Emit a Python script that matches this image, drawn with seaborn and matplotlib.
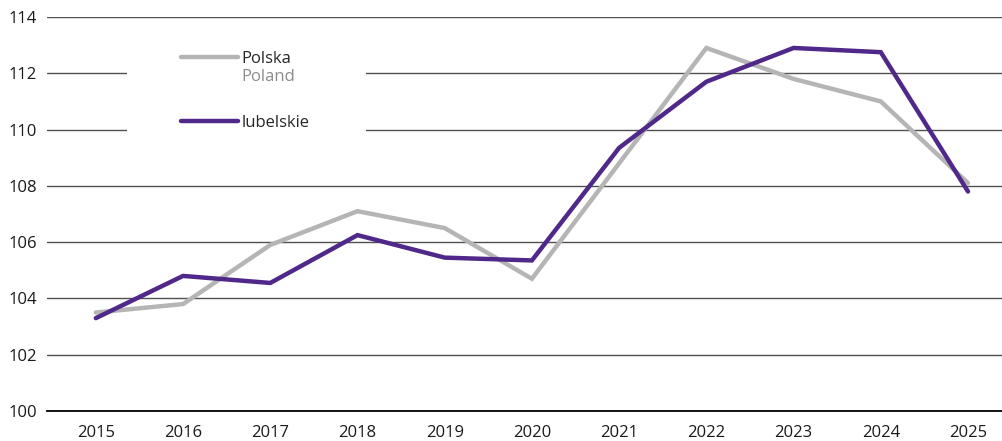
import pandas as pd
import matplotlib.pyplot as plt
import matplotlib.patches as mpatches
from matplotlib.lines import Line2D
import seaborn as sns

years = list(range(2015, 2026))
polska = [103.5, 103.8, 105.9, 107.1, 106.5, 104.7, 108.8, 112.9, 111.8, 111.0, 108.1]
lubelskie = [103.3, 104.8, 104.55, 106.25, 105.45, 105.35, 109.35, 111.7, 112.9, 112.75, 107.8]
yticks = [100, 102, 104, 106, 108, 110, 112, 114]

gray = "#b5b5b5"
purple = "#50288a"

sns.set_style("white")
plt.rcParams["font.family"] = ["Open Sans", "DejaVu Sans"]

data = pd.concat([
    pd.DataFrame({"rok": years, "value": polska, "series": "Polska"}),
    pd.DataFrame({"rok": years, "value": lubelskie, "series": "lubelskie"}),
])

fig = plt.figure(figsize=(10.02, 4.41), dpi=100)
ax = fig.add_axes([47 / 1002, 30 / 441, 955 / 1002, 394 / 441])

sns.lineplot(data=data, x="rok", y="value", hue="series",
             palette={"Polska": gray, "lubelskie": purple},
             linewidth=3.2, ax=ax, legend=False, zorder=3)
for l in ax.lines:
    l.set_solid_capstyle("round")
    l.set_solid_joinstyle("miter")

ax.set_ylim(100, 114)
ax.set_xlim(2014.44, 2025.39)
ax.set_yticks(yticks)
ax.set_xticks(years)
ax.set_xlabel("")
ax.set_ylabel("")
for y in yticks[1:]:
    ax.axhline(y, color="#505050", lw=1.0, zorder=0.5)
for s in ["top", "right", "left"]:
    ax.spines[s].set_visible(False)
ax.spines["bottom"].set_color("black")
ax.spines["bottom"].set_linewidth(1.3)
ax.tick_params(axis="both", length=0, labelsize=12, colors="#1a1a1a")
ax.tick_params(axis="x", pad=10)
ax.tick_params(axis="y", pad=7)

# white box behind the legend cutting the gridlines
ax.add_patch(mpatches.Rectangle((0.0838, 0.69), 0.25, 0.265, transform=ax.transAxes,
                                 facecolor="white", edgecolor="none", zorder=1))

handles = [Line2D([], [], color=gray, lw=3.2, solid_capstyle="round"),
           Line2D([], [], color=purple, lw=3.2, solid_capstyle="round")]
leg = ax.legend(handles, ["Polska", "lubelskie"], loc="upper left",
                bbox_to_anchor=(0.1407, 0.9147), frameon=False, fontsize=12,
                handlelength=3.4, handletextpad=0.22, labelspacing=2.92,
                borderpad=0, borderaxespad=0)
ax.text(0.2035, 0.848, "Poland", transform=ax.transAxes, fontsize=12,
        color="#8c8c8c", va="center", ha="left")

fig.savefig("out.png", dpi=100)
